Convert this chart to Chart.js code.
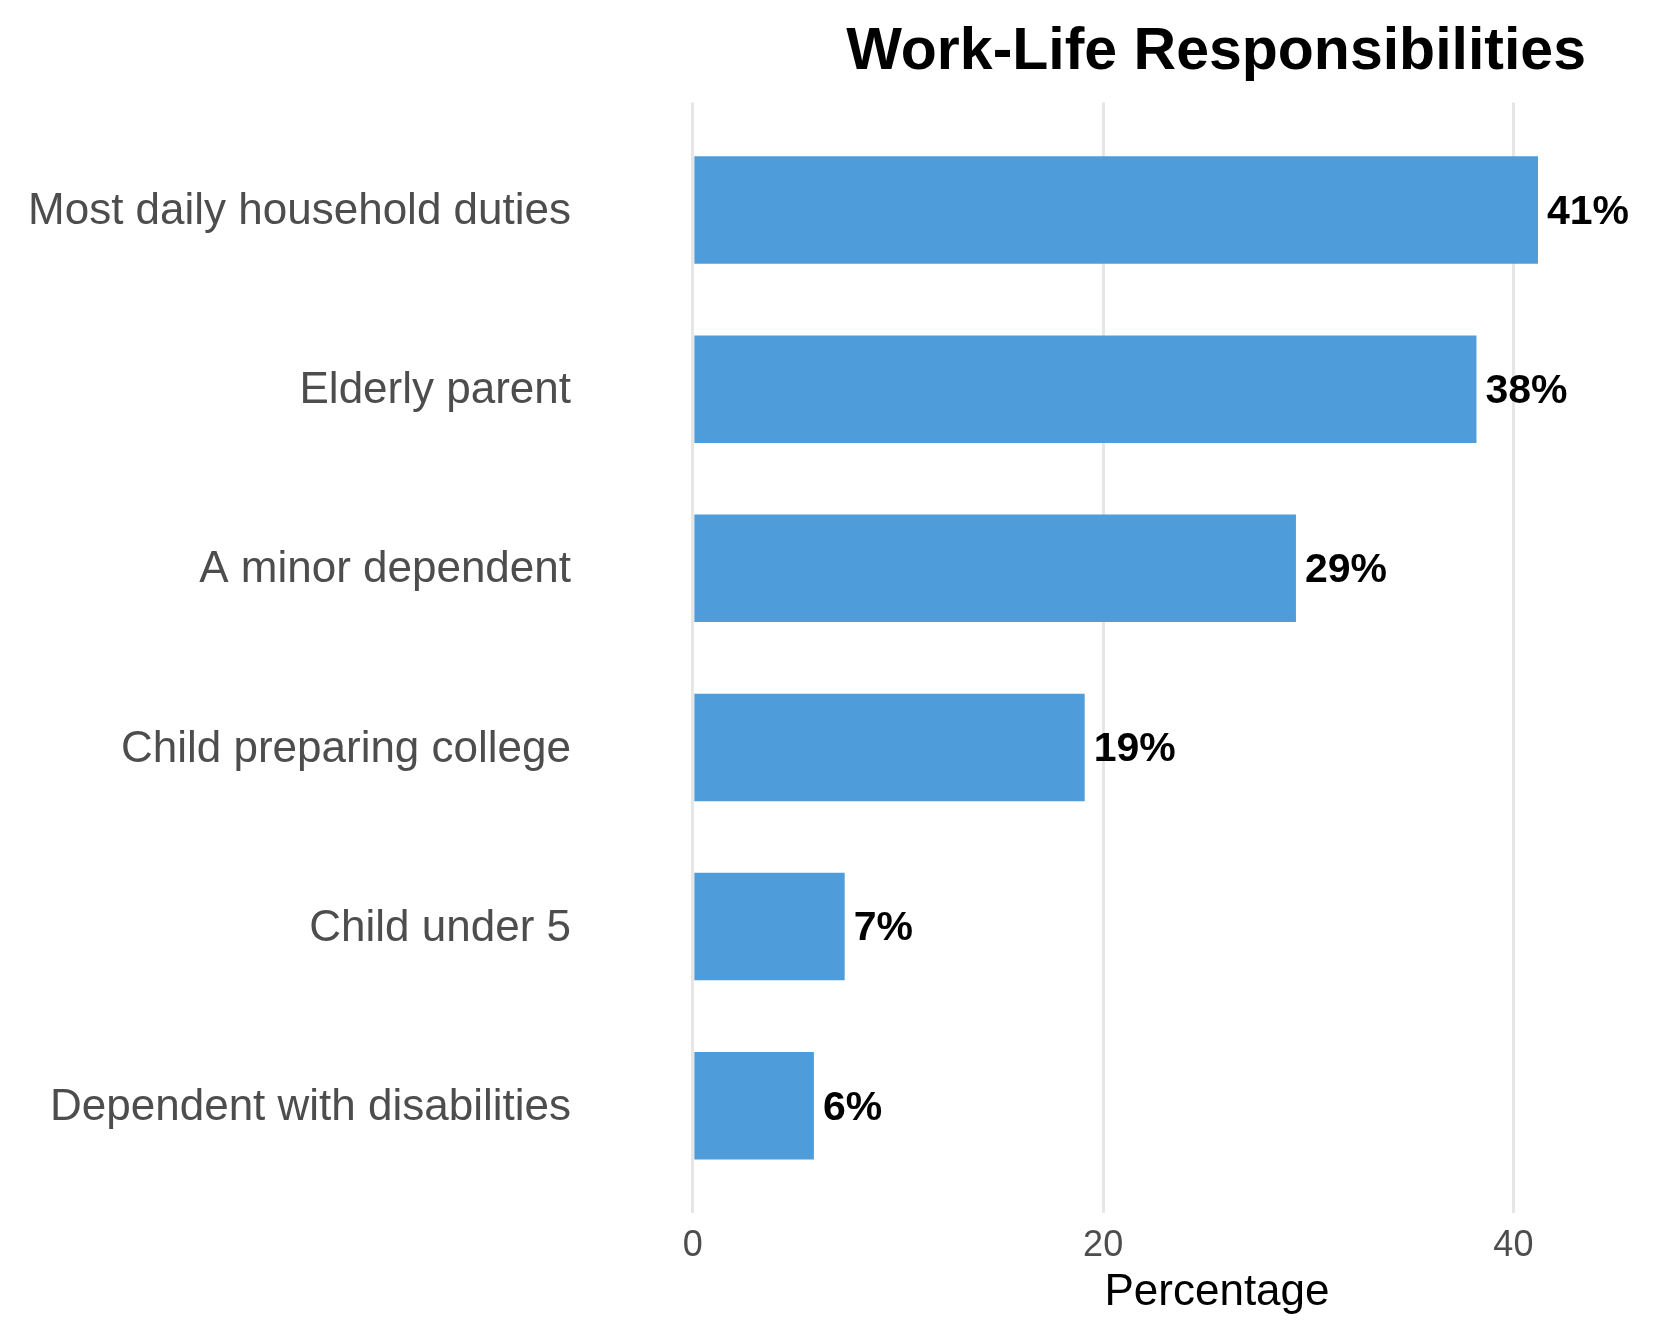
<!DOCTYPE html>
<html>
<head>
<meta charset="utf-8">
<script src="https://cdn.jsdelivr.net/npm/chart.js@4.4.0/dist/chart.umd.min.js"></script>
<style>
  html, body { margin: 0; padding: 0; background: #fff; }
  #wrap { width: 1656px; height: 1344px; }
</style>
</head>
<body>
<div id="wrap"><canvas id="chart"></canvas></div>
<script>
  // Data
  const categories = [
    'Most daily household duties',
    'Elderly parent',
    'A minor dependent',
    'Child preparing college',
    'Child under 5',
    'Dependent with disabilities'
  ];
  const percentages = [41.2, 38.2, 29.4, 19.1, 7.4, 5.9];
  const xTicks = [0, 20, 40];

  Chart.defaults.font.family = "'Liberation Sans', Arial, sans-serif";

  // Percent labels to the right of each bar
  const barLabels = {
    id: 'barLabels',
    afterDatasetsDraw(chart) {
      const ctx = chart.ctx;
      const meta = chart.getDatasetMeta(0);
      ctx.save();
      ctx.font = "bold 41px 'Liberation Sans', Arial, sans-serif";
      ctx.fillStyle = '#000';
      ctx.textAlign = 'left';
      ctx.textBaseline = 'middle';
      meta.data.forEach((bar, i) => {
        ctx.fillText(Math.round(percentages[i]) + '%', bar.x + 9, bar.y + 2.5);
      });
      ctx.restore();
    }
  };

  // x axis title sits right of the panel centre in the reference
  const xTitle = {
    id: 'xTitle',
    afterDraw(chart) {
      const ctx = chart.ctx;
      ctx.save();
      ctx.font = "44px 'Liberation Sans', Arial, sans-serif";
      ctx.fillStyle = '#000';
      ctx.textAlign = 'center';
      ctx.textBaseline = 'middle';
      ctx.fillText('Percentage', 1217, 1293);
      ctx.restore();
    }
  };

  const ctx = document.getElementById('chart').getContext('2d');
  new Chart(ctx, {
    type: 'bar',
    data: {
      datasets: [{
        data: percentages.map((v, i) => ({ x: v, y: i + 1 })),
        backgroundColor: '#4E9CDA',
        borderWidth: 0,
        barPercentage: 0.6,
        categoryPercentage: 1
      }]
    },
    options: {
      indexAxis: 'y',
      responsive: true,
      maintainAspectRatio: false,
      animation: false,
      layout: { padding: { left: 10, right: 70, top: 0, bottom: 65.6 } },
      plugins: {
        legend: { display: false },
        tooltip: { enabled: false },
        title: {
          display: true,
          text: 'Work-Life Responsibilities',
          align: 'end',
          color: '#000',
          font: { size: 59, weight: 'bold' },
          padding: { top: 17.5, bottom: 14.2 }
        }
      },
      scales: {
        x: {
          type: 'linear',
          min: -2.09,
          max: 43.54,
          afterBuildTicks: (scale) => { scale.ticks = xTicks.map(v => ({ value: v })); },
          grid: { color: '#E6E6E6', lineWidth: 3, drawTicks: false },
          border: { display: false },
          ticks: { color: '#4D4D4D', font: { size: 36 }, padding: 11 }
        },
        y: {
          type: 'linear',
          reverse: true,
          offset: false,
          min: 0.4,
          max: 6.6,
          afterBuildTicks: (scale) => { scale.ticks = categories.map((c, i) => ({ value: i + 1 })); },
          afterFit: (scale) => {
            scale.width = 640;
            // the big label padding should not eat vertical space
            scale.paddingTop = 0;
            scale.paddingBottom = 0;
          },
          grid: { display: false, drawTicks: false, offset: false },
          border: { display: false },
          ticks: {
            color: '#4D4D4D',
            font: { size: 44 },
            padding: 79,
            labelOffset: 2,
            autoSkip: false,
            callback: (v) => categories[v - 1]
          }
        }
      }
    },
    plugins: [barLabels, xTitle]
  });
</script>
</body>
</html>
